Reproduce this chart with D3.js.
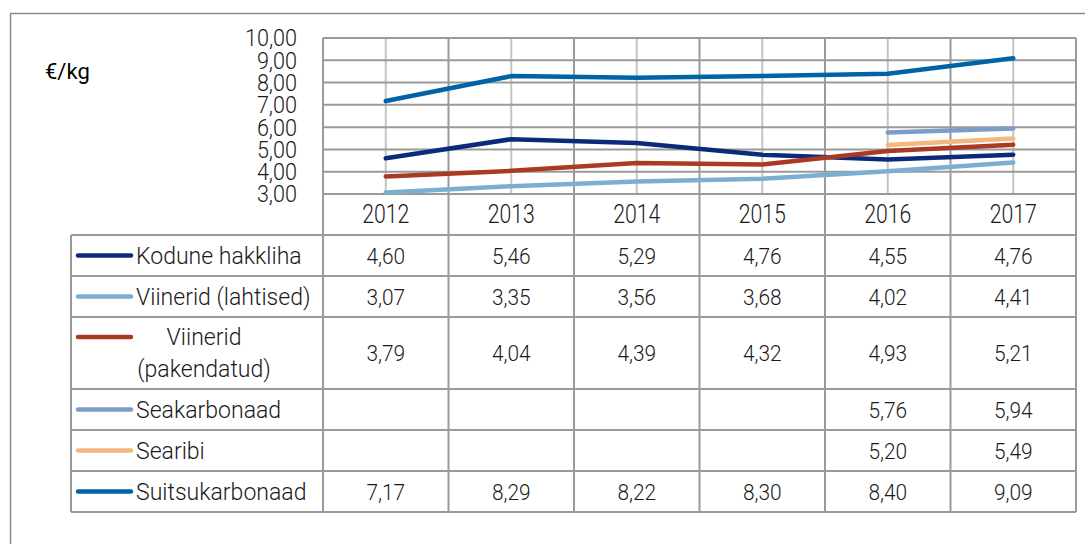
<!DOCTYPE html>
<html><head><meta charset="utf-8">
<script src="https://cdn.jsdelivr.net/npm/d3@7/dist/d3.min.js"></script>
<style>html,body{margin:0;padding:0;background:#fff;}svg{display:block;font-family:Roboto,"Noto Sans",sans-serif;}</style>
</head><body>
<script>
const years = ["2012","2013","2014","2015","2016","2017"];
const seriesNames = ["Kodune hakkliha","Viinerid (lahtised)","Viinerid (pakendatud)","Seakarbonaad","Searibi","Suitsukarbonaad"];
const kodune = [4.60,5.46,5.29,4.76,4.55,4.76];
const lahtised = [3.07,3.35,3.56,3.68,4.02,4.41];
const pakendatud = [3.79,4.04,4.39,4.32,4.93,5.21];
const seakarbonaad = [null,null,null,null,5.76,5.94];
const searibi = [null,null,null,null,5.20,5.49];
const suitsukarbonaad = [7.17,8.29,8.22,8.30,8.40,9.09];
const yTicks = [3,4,5,6,7,8,9,10];
const unitLabel = "€/kg";
const colors = ["#0b2b7a","#7bafd2","#a93a23","#7e9cc8","#f2b880","#0063a6"];

const allValues = [kodune,lahtised,pakendatud,seakarbonaad,searibi,suitsukarbonaad];
const series = seriesNames.map((n,i)=>({name:n,values:allValues[i],color:colors[i]}));

const W=1085,H=544;
const svg=d3.select("body").append("svg").attr("width",W).attr("height",H);
const fmt = v => v==null ? "" : v.toFixed(2).replace(".",",");

const plotL=323, plotR=1076, plotT=38, plotB=194;
const tableL=71, tableTop=235;
const rowH=[41,41,72,41,41,41];
const rowY=[tableTop]; rowH.forEach((h,i)=>rowY.push(rowY[i]+h));
const tableB=rowY[rowY.length-1];

const x=d3.scaleBand().domain(years).range([plotL,plotR]).padding(0);
const y=d3.scaleLinear().domain([3,10]).range([plotB,plotT]);
const cx = d=> x(d)+x.bandwidth()/2;

// outer frame
svg.append("rect").attr("x",10.5).attr("y",13.5).attr("width",W+20).attr("height",H+20)
  .attr("fill","none").attr("stroke","#8a8a8a").attr("stroke-width",1.5);

const grid=svg.append("g");
grid.selectAll(".vc").data(years).join("line")
  .attr("x1",d=>cx(d)).attr("x2",d=>cx(d)).attr("y1",plotT).attr("y2",plotB)
  .attr("stroke","#c4c4c4").attr("stroke-width",2);
grid.selectAll(".h").data(yTicks).join("line")
  .attr("x1",plotL).attr("x2",plotR).attr("y1",d=>y(d)).attr("y2",d=>y(d))
  .attr("stroke","#9a9a9a").attr("stroke-width",2);
const bounds = years.map(d=>x(d)).concat([plotR]);
grid.selectAll(".vb").data(bounds).join("line")
  .attr("x1",d=>d).attr("x2",d=>d).attr("y1",plotT).attr("y2",tableB)
  .attr("stroke","#9a9a9a").attr("stroke-width",2);
grid.selectAll(".th").data(rowY).join("line")
  .attr("x1",tableL).attr("x2",plotR).attr("y1",d=>d).attr("y2",d=>d)
  .attr("stroke","#9a9a9a").attr("stroke-width",2);
grid.append("line").attr("x1",tableL).attr("x2",tableL).attr("y1",tableTop).attr("y2",tableB)
  .attr("stroke","#9a9a9a").attr("stroke-width",2);

// y axis labels
svg.append("g").selectAll("text").data(yTicks).join("text")
  .attr("transform",d=>`translate(297,${y(d)}) scale(0.92,1)`)
  .attr("text-anchor","end").attr("dy","0.36em")
  .attr("font-size",23.5).attr("font-weight",300).attr("fill","#1a1a1a")
  .text(d=>fmt(d));

svg.append("text").attr("x",45).attr("y",79).attr("font-size",22).attr("fill","#000").text(unitLabel);

// year labels
svg.append("g").selectAll("text").data(years).join("text")
  .attr("transform",d=>`translate(${cx(d)},223) scale(0.85,1)`)
  .attr("text-anchor","middle").attr("font-size",25).attr("font-weight",300).attr("fill","#1a1a1a")
  .text(d=>d);

// lines
const line=d3.line().defined(d=>d.v!=null).x(d=>cx(d.year)).y(d=>y(d.v));
svg.append("g").selectAll("path").data(series).join("path")
  .attr("d",s=>line(years.map((yr,i)=>({year:yr,v:s.values[i]}))))
  .attr("fill","none").attr("stroke",s=>s.color).attr("stroke-width",4.5)
  .attr("stroke-linecap","round").attr("stroke-linejoin","round");

// table rows
series.forEach((s,i)=>{
  const top=rowY[i], h=rowH[i], mid=top+h/2;
  const g=svg.append("g");
  const twoLine = h>50;
  const swY = twoLine ? top+20 : mid;
  g.append("line").attr("x1",78).attr("x2",131).attr("y1",swY).attr("y2",swY)
    .attr("stroke",s.color).attr("stroke-width",4.5).attr("stroke-linecap","round");
  if(twoLine){
    const parts=[s.name.split(" ")[0], s.name.split(" ").slice(1).join(" ")];
    parts.forEach((p,k)=>{
      g.append("text").attr("transform",`translate(204,${top+28+k*32}) scale(0.96,1)`)
        .attr("text-anchor","middle").attr("font-size",24).attr("font-weight",300).attr("fill","#1a1a1a").text(p);
    });
  } else {
    g.append("text").attr("transform",`translate(136,${mid+8.5}) scale(0.96,1)`)
      .attr("font-size",24).attr("font-weight",300).attr("fill","#1a1a1a").text(s.name);
  }
  g.selectAll(".v").data(years).join("text")
    .attr("transform",(d)=>`translate(${cx(d)},${mid+8}) scale(0.95,1)`)
    .attr("text-anchor","middle").attr("font-size",22).attr("font-weight",300).attr("fill","#1a1a1a")
    .text((d,j)=>fmt(s.values[j]));
});
</script>
</body></html>
